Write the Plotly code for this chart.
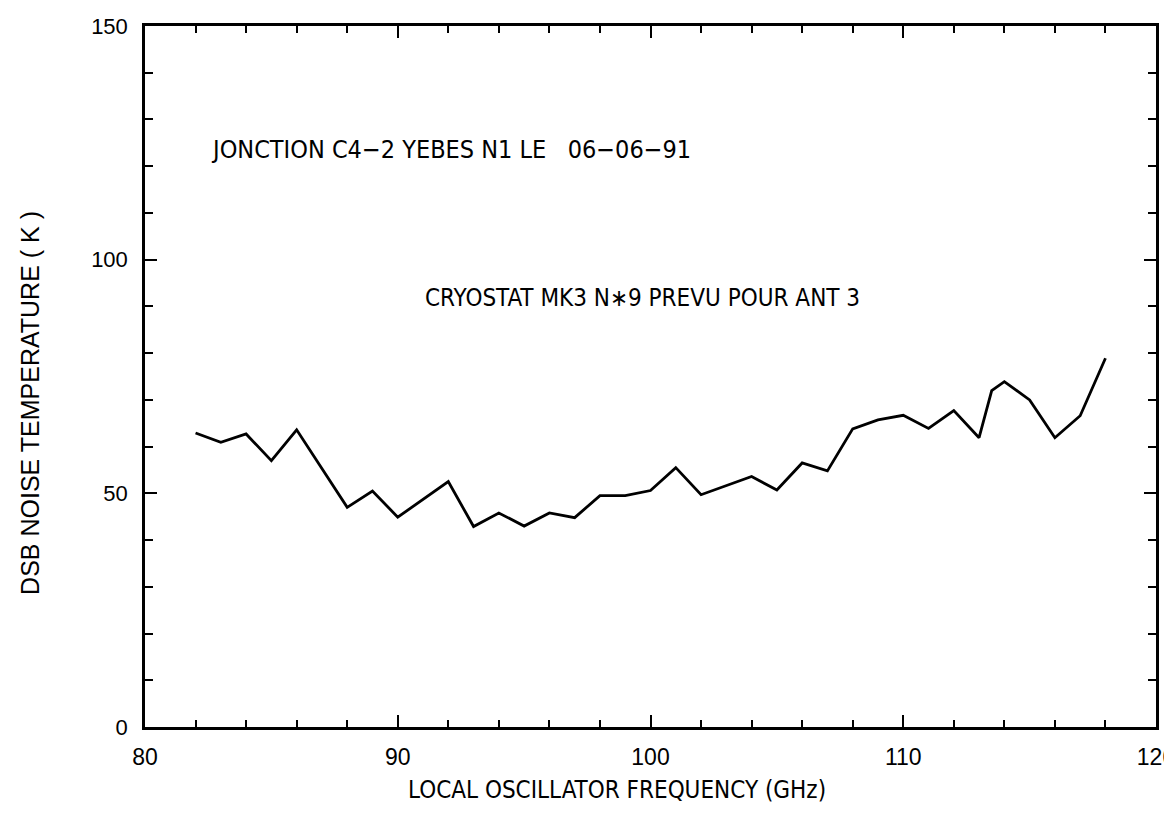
import plotly.graph_objects as go

freq_ghz = [82, 83, 84, 85, 86, 88, 89, 90, 92, 93, 94, 95, 96, 97, 98, 99, 100,
            101, 102, 104, 105, 106, 107, 108, 109, 110, 111, 112, 113, 113.5,
            114, 115, 116, 117, 118]
tdsb_k = [62.9, 60.9, 62.7, 57.0, 63.6, 47.0, 50.5, 44.9, 52.5, 42.9, 45.8, 43.0,
          45.8, 44.8, 49.5, 49.5, 50.6, 55.5, 49.7, 53.6, 50.7, 56.5, 54.8, 63.8,
          65.7, 66.7, 63.9, 67.7, 61.9, 72.0, 73.9, 70.0, 61.9, 66.6, 78.9]

x_ticks = [80, 90, 100, 110, 120]
y_ticks = [0, 50, 100, 150]

note_1 = "JONCTION C4\u22122 YEBES N1 LE   06\u221206\u221291"
note_2 = "CRYOSTAT MK3 N\u22179 PREVU POUR ANT 3"
x_title = "LOCAL OSCILLATOR FREQUENCY (GHz)"
y_title = "DSB NOISE TEMPERATURE ( K )"

NARROW = "Liberation Sans Narrow, Arial Narrow, DejaVu Sans Condensed, Liberation Sans, Arial, sans-serif"
SANS = "Liberation Sans, Arial, sans-serif"

fig = go.Figure()
fig.add_trace(go.Scatter(x=freq_ghz, y=tdsb_k, mode="lines",
                         line=dict(color="black", width=2.8),
                         showlegend=False, hoverinfo="x+y"))

fig.update_layout(
    width=1164, height=817,
    margin=dict(l=145, r=8, t=26, b=90),
    paper_bgcolor="white", plot_bgcolor="white",
    font=dict(family=NARROW, color="black"),
    xaxis=dict(range=[80, 120], tickvals=x_ticks, ticktext=[str(v) for v in x_ticks],
               ticks="inside", ticklen=12, tickwidth=2, tickcolor="black",
               minor=dict(dtick=2, tick0=80, ticks="inside", ticklen=7, tickwidth=1.5, tickcolor="black"),
               showline=True, linecolor="black", linewidth=2.5, mirror="ticks",
               showgrid=False, zeroline=False, automargin=False,
               tickfont=dict(family=SANS, size=23, color="black"),
               ticklabelstandoff=8, ticklabeloverflow="allow"),
    yaxis=dict(range=[0, 150], tickvals=y_ticks, ticktext=[str(v) for v in y_ticks],
               ticks="inside", ticklen=12, tickwidth=2, tickcolor="black",
               minor=dict(dtick=10, tick0=0, ticks="inside", ticklen=8, tickwidth=1.5, tickcolor="black"),
               showline=True, linecolor="black", linewidth=2.5, mirror="ticks",
               showgrid=False, zeroline=False, automargin=False,
               tickfont=dict(family=SANS, size=22, color="black"),
               ticklabelstandoff=10),
)

# axis titles (placed off-centre as in the original plotter output)
fig.add_annotation(x=0.467, y=-0.09, xref="paper", yref="paper", text=x_title,
                   showarrow=False, xanchor="center", yanchor="middle",
                   font=dict(family=NARROW, size=24, color="black"))
fig.add_annotation(x=-0.114, y=0.462, xref="paper", yref="paper", text=y_title,
                   textangle=-90, showarrow=False, xanchor="center", yanchor="middle",
                   font=dict(family=SANS, size=25, color="black"))

fig.add_annotation(x=82.55, y=123.5, xref="x", yref="y", text=note_1,
                   showarrow=False, xanchor="left", yanchor="middle",
                   font=dict(family=NARROW, size=25, color="black"))
fig.add_annotation(x=91.0, y=91.9, xref="x", yref="y", text=note_2,
                   showarrow=False, xanchor="left", yanchor="middle",
                   font=dict(family=NARROW, size=24, color="black"))

fig.write_html("out.html")
